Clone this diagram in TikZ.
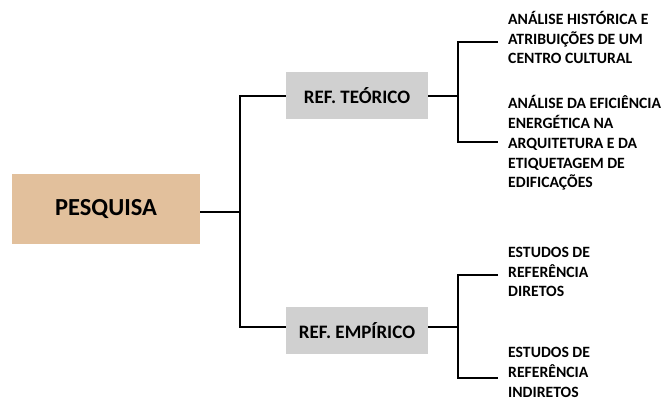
\documentclass[tikz,border=0pt]{standalone}
\usepackage{fontspec}
\setmainfont{Carlito}
\definecolor{tan}{HTML}{E2C09C}
\definecolor{boxgray}{HTML}{D0D0D0}
\begin{document}
\begin{tikzpicture}[x=1pt,y=1pt,
  conn/.style={line width=2.8pt, line join=miter},
  mainbox/.style={fill=tan, minimum width=188pt, minimum height=70pt, inner sep=0pt, font=\bfseries\fontsize{24.5}{28}\selectfont},
  refbox/.style={fill=boxgray, minimum width=142pt, minimum height=47pt, inner sep=0pt, font=\bfseries\fontsize{19}{22}\selectfont},
  leaf/.style={anchor=west, inner sep=0pt, align=left, font=\bfseries\fontsize{15.7}{19.8}\selectfont}]
\useasboundingbox (0,0) rectangle (670,-400);
\node[mainbox] (pes) at (106,-209) {PESQUISA};
\node[refbox] (teo) at (357,-95.5) {REF. TEÓRICO};
\node[refbox] (emp) at (357,-330.5) {REF. EMPÍRICO};
\node[leaf] (l1) at (508,-37.5) {ANÁLISE HISTÓRICA E\\ATRIBUIÇÕES DE UM\\CENTRO CULTURAL};
\node[leaf] (l2) at (508,-143) {ANÁLISE DA EFICIÊNCIA\\ENERGÉTICA NA\\ARQUITETURA E DA\\ETIQUETAGEM DE\\EDIFICAÇÕES};
\node[leaf] (l3) at (508,-272) {ESTUDOS DE\\REFERÊNCIA\\DIRETOS};
\node[leaf] (l4) at (508,-372.5) {ESTUDOS DE\\REFERÊNCIA\\INDIRETOS};
\coordinate (b0) at (240,-212);
\coordinate (b1) at (458,-96);
\coordinate (b2) at (458,-327);
\coordinate (c1) at (498,-42);
\coordinate (c2) at (498,-142);
\coordinate (c3) at (498,-275);
\coordinate (c4) at (498,-378);
\draw[conn] (pes.east |- b0) -- (b0);
\draw[conn] (teo.west |- b1) -| (b0) |- (emp.west |- b2);
\draw[conn] (teo.east |- b1) -- (b1);
\draw[conn] (emp.east |- b2) -- (b2);
\draw[conn] (c1) -| (b1) |- (c2);
\draw[conn] (c3) -| (b2) |- (c4);
\end{tikzpicture}
\end{document}
